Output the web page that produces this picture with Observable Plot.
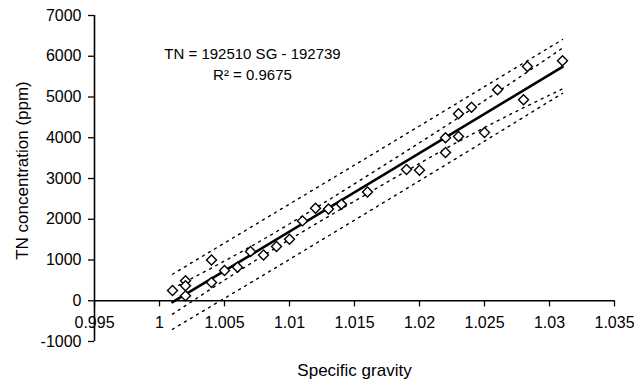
<!DOCTYPE html>
<html>
<head>
<meta charset="utf-8">
<script src="https://cdn.jsdelivr.net/npm/d3@7"></script>
<script src="https://cdn.jsdelivr.net/npm/@observablehq/plot@0.6"></script>
<style>
  html, body { margin: 0; padding: 0; background: #fff; }
  #chart { width: 634px; height: 384px; }
</style>
</head>
<body>
<div id="chart"></div>
<script>
// Measured samples: specific gravity vs TN concentration (ppm)
const sg = [1.001, 1.002, 1.002, 1.002, 1.004, 1.004, 1.005, 1.006, 1.007, 1.008, 1.009, 1.010,
            1.011, 1.012, 1.013, 1.014, 1.016, 1.019, 1.020, 1.022, 1.022, 1.023, 1.023, 1.024,
            1.025, 1.026, 1.028, 1.0283, 1.031];
const tn = [250, 490, 370, 120, 1000, 450, 740, 820, 1210, 1120, 1330, 1510,
            1960, 2270, 2250, 2370, 2670, 3220, 3200, 4000, 3640, 4590, 4030, 4750,
            4130, 5180, 4930, 5750, 5890];

// Regression (from the annotation)
const slope = 192510;
const intercept = -192739;
const fitSG = [1.001, 1.031];

// Band lines
const bandSG = [1.001, 1.008, 1.016, 1.024, 1.031];
const upperOuter = [650, 1990, 3520, 5060, 6410];
const upperInner = [300, 1510, 3070, 4700, 6200];
const lowerInner = [-330, 1110, 2630, 4080, 5200];
const lowerOuter = [-700, 630, 2170, 3720, 5090];

// Axis ticks
const xTicks = [0.995, 1, 1.005, 1.01, 1.015, 1.02, 1.025, 1.03, 1.035];
const yTicks = [-1000, 0, 1000, 2000, 3000, 4000, 5000, 6000, 7000];

const points = sg.map((s, i) => ({sg: s, tn: tn[i]}));
const fit = fitSG.map(s => ({sg: s, tn: slope * s + intercept}));
const band = (arr) => bandSG.map((s, i) => ({sg: s, tn: arr[i]}));

const font = "'Liberation Sans', Arial, Helvetica, sans-serif";
const dotted = {stroke: "#000", strokeWidth: 1.4, strokeDasharray: "2,5"};

const plot = Plot.plot({
  width: 634,
  height: 384,
  marginLeft: 94,
  marginRight: 20,
  marginTop: 15,
  marginBottom: 43,
  style: {fontFamily: font, fontSize: "16px", color: "#000", background: "#fff"},
  x: {domain: [0.995, 1.035], axis: null},
  y: {domain: [-1000, 7000], axis: null},
  marks: [
    // y axis
    Plot.axisY(yTicks, {tickSize: 6, tickPadding: 7, tickFormat: d => String(d), label: null, fontSize: 16, strokeWidth: 1.3}),
    Plot.ruleX([0.995], {y1: -1000, y2: 7000, stroke: "#000", strokeWidth: 1.6}),
    // x axis at y = 0
    Plot.ruleY([0], {x1: 0.995, x2: 1.035, stroke: "#000", strokeWidth: 1.6}),
    Plot.ruleX(xTicks, {x: d => d, y1: 0, y2: -150, stroke: "#000", strokeWidth: 1.3}),
    Plot.text(xTicks, {x: d => d, y: 0, dy: 22, text: d => String(d), fontSize: 16}),
    // bands
    Plot.line(band(upperOuter), {x: "sg", y: "tn", ...dotted}),
    Plot.line(band(upperInner), {x: "sg", y: "tn", ...dotted, curve: "natural"}),
    Plot.line(band(lowerInner), {x: "sg", y: "tn", ...dotted, curve: "natural"}),
    Plot.line(band(lowerOuter), {x: "sg", y: "tn", ...dotted}),
    // regression line
    Plot.line(fit, {x: "sg", y: "tn", stroke: "#000", strokeWidth: 2.6}),
    // data points
    Plot.dot(points, {x: "sg", y: "tn", symbol: "diamond2", r: 4.5, stroke: "#000", strokeWidth: 1.4, fill: "#fff"}),
    // annotation
    Plot.text(["TN = 192510 SG - 192739\nR\u00b2 = 0.9675"], {frameAnchor: "top-left", dx: 158, dy: 47, lineHeight: 1.4, fontSize: 15, textAnchor: "middle", lineAnchor: "middle"}),
    // axis labels
    Plot.text(["TN concentration (ppm)"], {frameAnchor: "left", dx: -72, dy: -8, rotate: -90, fontSize: 17, textAnchor: "middle", lineAnchor: "middle"}),
    Plot.text(["Specific gravity"], {frameAnchor: "bottom", dy: 29, fontSize: 17, textAnchor: "middle", lineAnchor: "middle"})
  ]
});
document.getElementById("chart").appendChild(plot);
</script>
</body>
</html>
